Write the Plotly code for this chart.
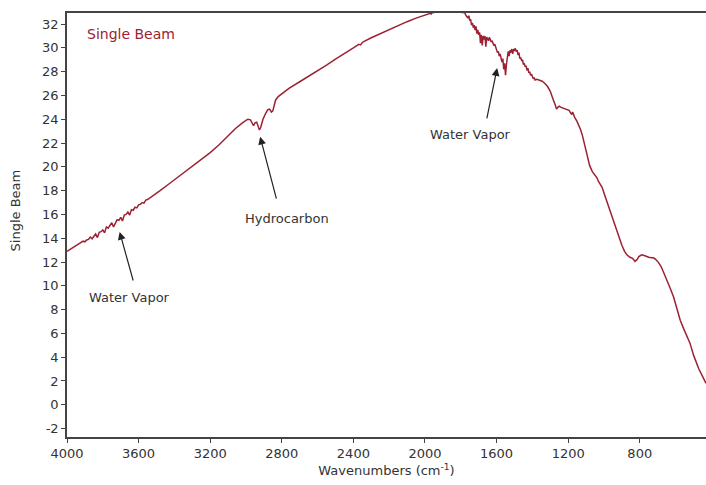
import plotly.graph_objects as go

# Wavenumbers (cm^-1) and single-beam intensity
wavenumbers = [
    4000, 3960, 3920, 3910, 3900, 3890, 3880, 3870, 3860, 3850, 3840, 3830, 3820, 3810,
    3800, 3790, 3780, 3770, 3760, 3750, 3740, 3730, 3720, 3710, 3700, 3690, 3680, 3670,
    3660, 3650, 3640, 3630, 3620, 3610, 3600, 3590, 3580, 3570, 3560, 3550, 3540, 3520,
    3480, 3440, 3400, 3350, 3300, 3250, 3200, 3150, 3100, 3060, 3020, 2990, 2975, 2965,
    2958, 2950, 2940, 2932, 2925, 2918, 2905, 2890, 2878, 2868, 2858, 2850, 2842, 2835,
    2820, 2800, 2760, 2700, 2650, 2600, 2550, 2500, 2450, 2400, 2370, 2360, 2350, 2340,
    2300, 2250, 2200, 2150, 2100, 2050, 2000, 1970, 1965, 1960, 1940, 1900, 1870, 1850,
    1830, 1800, 1790, 1780, 1770, 1760, 1755, 1750, 1745, 1740, 1735, 1730, 1725, 1720,
    1715, 1710, 1705, 1700, 1695, 1690, 1685, 1680, 1675, 1670, 1665, 1660, 1655, 1650,
    1645, 1640, 1635, 1630, 1625, 1620, 1615, 1610, 1605, 1600, 1595, 1590, 1585, 1580,
    1575, 1570, 1565, 1560, 1555, 1550, 1545, 1540, 1535, 1530, 1525, 1520, 1515, 1510,
    1505, 1500, 1495, 1490, 1485, 1480, 1475, 1470, 1465, 1460, 1455, 1450, 1445, 1440,
    1435, 1430, 1425, 1420, 1415, 1410, 1405, 1400, 1395, 1390, 1385, 1375, 1360, 1345,
    1330, 1315, 1300, 1290, 1280, 1272, 1265, 1258, 1250, 1240, 1225, 1210, 1195, 1185,
    1180, 1175, 1165, 1150, 1140, 1130, 1120, 1107, 1095, 1080, 1065, 1050, 1040, 1030,
    1020, 1011, 1000, 980, 960, 940, 920, 900, 885, 872, 855, 840, 826, 815,
    805, 790, 775, 762, 750, 735, 723, 710, 695, 680, 667, 650, 630, 611,
    590, 574, 555, 536, 520, 499, 480, 470, 450, 430,
]
single_beam = [
    12.90, 13.25, 13.60, 13.75, 13.70, 13.85, 13.90, 14.10, 13.95, 14.20, 14.35, 14.05, 14.50, 14.55,
    14.70, 14.45, 14.95, 14.85, 15.10, 15.30, 14.95, 15.20, 15.55, 15.50, 15.75, 15.45, 15.95, 16.00,
    16.20, 15.95, 16.40, 16.35, 16.60, 16.55, 16.80, 16.85, 17.00, 16.95, 17.20, 17.25, 17.35, 17.60,
    18.00, 18.45, 18.90, 19.45, 20.00, 20.60, 21.20, 21.85, 22.60, 23.20, 23.70, 24.00, 23.95, 23.70,
    23.45, 23.70, 23.75, 23.40, 23.10, 23.30, 24.00, 24.50, 24.80, 24.85, 24.60, 24.70, 25.30, 25.60,
    25.90, 26.15, 26.60, 27.15, 27.60, 28.10, 28.55, 29.05, 29.50, 30.00, 30.30, 30.25, 30.45, 30.55,
    30.85, 31.20, 31.55, 31.90, 32.20, 32.50, 32.75, 32.90, 32.85, 32.95, 33.00, 33.05, 33.00, 33.05,
    33.00, 33.05, 32.95, 33.00, 32.70, 32.50, 32.70, 32.30, 32.40, 31.90, 32.10, 31.70, 31.90, 31.50,
    31.80, 31.20, 31.50, 31.10, 31.30, 30.40, 31.10, 30.20, 31.00, 30.70, 31.00, 30.10, 30.90, 30.80,
    30.60, 30.90, 30.70, 30.50, 30.60, 30.40, 30.20, 30.30, 30.00, 29.90, 29.60, 29.70, 29.30, 29.50,
    29.00, 28.80, 29.10, 28.20, 28.70, 27.70, 28.60, 29.20, 29.70, 29.30, 29.80, 29.60, 29.90, 29.50,
    29.90, 29.80, 29.95, 29.70, 29.80, 29.40, 29.60, 29.10, 29.20, 28.90, 29.00, 28.60, 28.70, 28.40,
    28.50, 28.10, 28.30, 27.90, 28.00, 27.70, 27.80, 27.60, 27.40, 27.50, 27.30, 27.35, 27.30, 27.20,
    27.00, 26.75, 26.35, 26.00, 25.50, 25.20, 24.85, 25.00, 25.10, 25.00, 24.90, 24.85, 24.75, 24.50,
    24.40, 24.60, 24.20, 23.80, 23.50, 23.10, 22.60, 21.80, 21.00, 20.10, 19.60, 19.30, 19.10, 18.75,
    18.50, 18.30, 17.80, 16.90, 16.00, 15.20, 14.40, 13.40, 12.90, 12.60, 12.40, 12.30, 12.05, 12.20,
    12.45, 12.60, 12.55, 12.45, 12.40, 12.35, 12.35, 12.20, 11.95, 11.60, 11.15, 10.50, 9.80, 9.05,
    8.00, 7.10, 6.40, 5.80, 5.20, 4.15, 3.30, 3.00, 2.40, 1.80,
]

x_tick_vals = [4000, 3600, 3200, 2800, 2400, 2000, 1600, 1200, 800]
y_tick_vals = list(range(-2, 33, 2))
y_tick_text = [str(v) for v in y_tick_vals]

LINE_COLOR = "#9b2233"
AXIS_COLOR = "#444444"
TEXT_COLOR = "#333333"
FONT = "DejaVu Sans"

fig = go.Figure()
fig.add_trace(go.Scatter(
    x=wavenumbers, y=single_beam, mode="lines",
    line=dict(color=LINE_COLOR, width=1.5),
    showlegend=False, hoverinfo="skip",
))

fig.update_layout(
    width=706, height=485,
    margin=dict(l=67, r=0, t=13, b=48),
    paper_bgcolor="white", plot_bgcolor="white",
    font=dict(family=FONT, size=13, color=TEXT_COLOR),
    xaxis=dict(
        range=[4000, 430], tickvals=x_tick_vals,
        showline=True, linecolor=AXIS_COLOR, linewidth=1.5, mirror=True,
        ticks="outside", ticklen=4, tickcolor=AXIS_COLOR, tickwidth=1,
        showgrid=False, zeroline=False,
        tickfont=dict(family=FONT, size=13, color=TEXT_COLOR),
        title=dict(text="Wavenumbers (cm<sup>-1</sup>)", standoff=6,
                   font=dict(family=FONT, size=13, color=TEXT_COLOR)),
    ),
    yaxis=dict(
        range=[-2.71, 32.93], tickvals=y_tick_vals, ticktext=y_tick_text,
        showline=True, linecolor=AXIS_COLOR, linewidth=1.5,
        ticks="outside", ticklen=4, tickcolor=AXIS_COLOR, tickwidth=1,
        showgrid=False, zeroline=False,
        tickfont=dict(family=FONT, size=13, color=TEXT_COLOR),
    ),
)

# y-axis title as annotation for precise placement
fig.add_annotation(
    text="Single Beam", xref="paper", yref="paper", x=-0.081, y=0.535,
    textangle=-90, showarrow=False, xanchor="center", yanchor="middle",
    font=dict(family=FONT, size=13, color=TEXT_COLOR),
)
# in-plot label
fig.add_annotation(
    text="Single Beam", xref="paper", yref="paper", x=0.028, y=0.950,
    showarrow=False, xanchor="left", yanchor="middle",
    font=dict(family=FONT, size=14, color=LINE_COLOR),
)

labels = [
    ("Hydrocarbon", 2772, 15.66, 2921, 22.53, 2828, 17.2),
    ("Water Vapor", 1745, 22.68, 1597, 28.3, 1656, 23.94),
    ("Water Vapor", 3651, 9.01, 3706, 14.53, 3628, 10.32),
]
for text, tx, ty, hx, hy, ax, ay in labels:
    fig.add_annotation(
        text=text, x=tx, y=ty, xref="x", yref="y", showarrow=False,
        xanchor="center", yanchor="middle",
        font=dict(family=FONT, size=13, color=TEXT_COLOR),
    )
    fig.add_annotation(
        text="", x=hx, y=hy, xref="x", yref="y", ax=ax, ay=ay, axref="x", ayref="y",
        showarrow=True, arrowhead=2, arrowsize=1.3, arrowwidth=1.2,
        arrowcolor="#222222", standoff=0, startstandoff=0,
    )

fig.write_html("out.html")
